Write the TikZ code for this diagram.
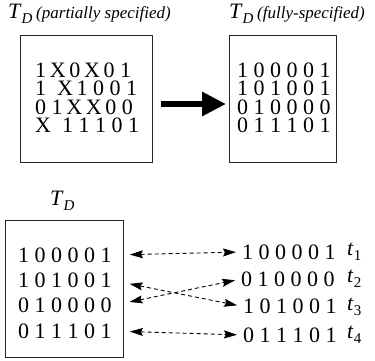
\documentclass[tikz,border=0pt]{standalone}
\usepackage{fontspec}
\setmainfont{Liberation Serif}
\usetikzlibrary{arrows.meta,positioning}

% italic letter with a lowered index
\newcommand{\idx}[2]{\textit{#1}\raisebox{-5pt}{\fontsize{15}{15}\selectfont #2}}
% font for the rows of bits, a bit more room between them
\newcommand{\bitfont}{\fontsize{22}{18.4}\selectfont\spaceskip=5.5pt\relax}

\begin{document}
\begin{tikzpicture}[x=1pt,y=-1pt,
      bits/.style={inner sep=0pt, anchor=west, font=\bitfont},
      block/.style={bits, align=left},
      tbox/.style={rectangle, draw=black!85, line width=1pt, inner sep=0pt},
      lbl/.style={inner sep=0pt, anchor=base west, font=\fontsize{22}{26}\selectfont},
      pair/.style={{Stealth[length=13pt,width=8pt,inset=2pt]}-{Stealth[length=13pt,width=8pt,inset=2pt]},
        line width=0.9pt, dash pattern=on 4pt off 3pt}]

\useasboundingbox (0,0) rectangle (375,360);

% partially specified set
\node[tbox, minimum width=132pt, minimum height=127pt] (boxA) at (86,98.5) {};
\node[lbl] (lblA) at (8,18) {\idx{T}{\textit{D}}\,{\fontsize{17}{19}\selectfont\itshape (partially specified)}};
\node[block] (setA) at (35,97.6) {1\,X\,0\,X\,0 1\\ 1 \ X\,1 0 0 1\\ 0 1\,X\,X\,0 0\\ X \ 1 1 1 0 1};

% fully specified set
\node[tbox, minimum width=107pt, minimum height=127pt] (boxB) at (283,98.5) {};
\node[lbl] (lblB) at (229,18) {\idx{T}{\textit{D}}\,{\fontsize{17}{19}\selectfont\itshape (fully-specified)}};
\node[block] (setB) at (237,97.6) {1 0 0 0 0 1\\ 1 0 1 0 0 1\\ 0 1 0 0 0 0\\ 0 1 1 1 0 1};

\draw[line width=6pt, -{Triangle[width=23pt,length=24pt]}, shorten <=8pt, shorten >=3pt]
  ([yshift=-5.5pt]boxA.east) -- ([yshift=-5.5pt]boxB.west);

% reordering
\node[tbox, minimum width=118pt, minimum height=137pt] (boxC) at (64,288.5) {};
\node[lbl] (lblC) at (50,205) {\idx{T}{\textit{D}}};
\node[bits] (c1) at (18,255) {1 0 0 0 0 1};
\node[bits] (c2) at (18,280.3) {1 0 1 0 0 1};
\node[bits] (c3) at (18,305.6) {0 1 0 0 0 0};
\node[bits] (c4) at (18,331) {0 1 1 1 0 1};

\node[bits] (r1) at (242,252) {1 0 0 0 0 1};
\node[bits] (r2) at (241,279) {0 1 0 0 0 0};
\node[bits] (r3) at (243,306.5) {1 0 1 0 0 1};
\node[bits] (r4) at (243,335) {0 1 1 1 0 1};

\node[lbl, anchor=west] (t1) at (347,252) {\idx{t}{1}};
\node[lbl, anchor=west] (t2) at (347,279) {\idx{t}{2}};
\node[lbl, anchor=west] (t3) at (347,306.5) {\idx{t}{3}};
\node[lbl, anchor=west] (t4) at (347,335) {\idx{t}{4}};

\draw[pair, shorten <=18pt, shorten >=6pt] (c1.east) -- (r1.west);
\draw[pair, shorten <=18pt, shorten >=6pt] (c2.east) -- (r3.west);
\draw[pair, shorten <=18pt, shorten >=6pt] (c3.east) -- (r2.west);
\draw[pair, shorten <=18pt, shorten >=6pt] (c4.east) -- (r4.west);

\end{tikzpicture}
\end{document}
